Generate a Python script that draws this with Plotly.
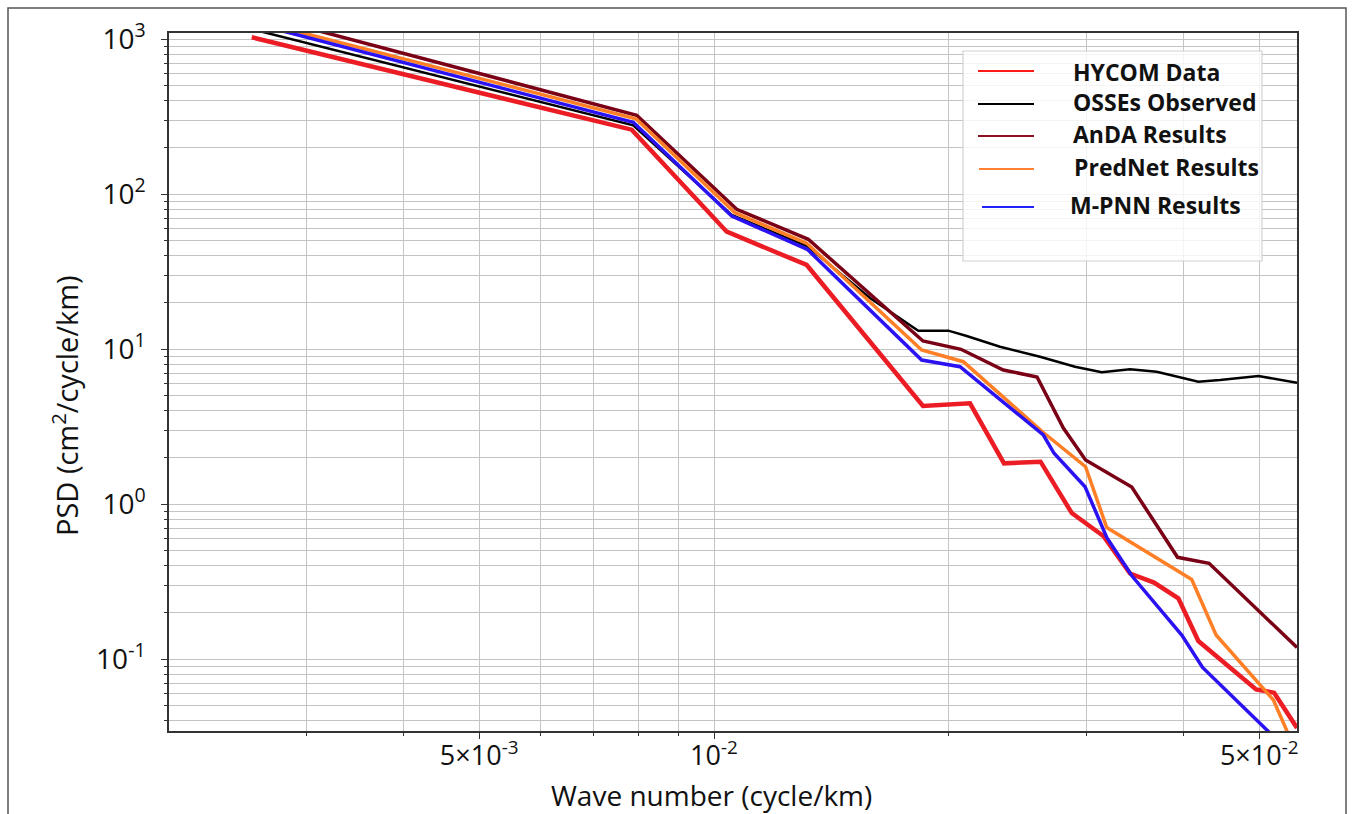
import plotly.graph_objects as go

# ---------------- data ----------------
hycom_x = [0.002555, 0.007843, 0.010382, 0.013147, 0.01853, 0.021292, 0.023539, 0.02622,
           0.028749, 0.031559, 0.034146, 0.036652, 0.039381, 0.041777, 0.049541, 0.052244, 0.055903]
hycom_y = [1026, 260, 57.13, 34.84, 4.288, 4.463, 1.830, 1.875,
           0.8747, 0.6216, 0.3561, 0.3115, 0.2463, 0.1306, 0.06357, 0.06061, 0.03588]

osse_x = [0.002555, 0.00788, 0.010536, 0.013159, 0.015849, 0.018273, 0.01997, 0.021085, 0.023263,
          0.026181, 0.029031, 0.031411, 0.034146, 0.036945, 0.041777, 0.044541, 0.049878, 0.055903]
osse_y = [1157, 277.5, 73.2, 46.18, 21.33, 13.13, 13.13, 12.13, 10.35,
          8.918, 7.688, 7.073, 7.397, 7.137, 6.153, 6.310, 6.695, 6.062]

anda_x = [0.002555, 0.00796, 0.010693, 0.013209, 0.01853, 0.020733, 0.023491, 0.02595,
          0.028046, 0.029945, 0.034318, 0.039288, 0.043118, 0.055903]
anda_y = [1469, 322, 79.65, 51.03, 11.26, 9.955, 7.320, 6.596,
          3.093, 1.922, 1.287, 0.4530, 0.4144, 0.1186]

prednet_x = [0.002555, 0.007943, 0.010639, 0.013147, 0.018459, 0.020874, 0.026437, 0.029945,
             0.031878, 0.04097, 0.044018, 0.052136, 0.055903]
prednet_y = [1330, 306, 75.75, 48.08, 9.853, 8.281, 2.893, 1.741,
             0.7054, 0.3257, 0.1428, 0.05438, 0.02437]

mpnn_x = [0.002555, 0.00788, 0.010536, 0.01317, 0.018459, 0.020672, 0.026437, 0.027286,
          0.0299, 0.031878, 0.034349, 0.039778, 0.042298, 0.05062, 0.052398]
mpnn_y = [1269, 290, 72.13, 43.98, 8.493, 7.688, 2.787, 2.124,
          1.293, 0.6079, 0.3431, 0.1428, 0.08813, 0.03658, 0.03093]

series_names = ["HYCOM Data", "OSSEs Observed", "AnDA Results", "PredNet Results", "M-PNN Results"]

x_tick_vals = [0.005, 0.01, 0.05]
x_tick_text = ["5\u00d710<sup>-3</sup>", "10<sup>-2</sup>", "5\u00d710<sup>-2</sup>"]
x_minor_vals = [0.002, 0.003, 0.004, 0.006, 0.007, 0.008, 0.009, 0.02, 0.03, 0.04]

y_tick_vals = [0.1, 1, 10, 100, 1000]
y_tick_text = ["10<sup>-1</sup>", "10<sup>0</sup>", "10<sup>1</sup>", "10<sup>2</sup>", "10<sup>3</sup>"]
y_minor_vals = [m * d for d in [0.01, 0.1, 1, 10, 100] for m in range(2, 10)]

# ---------------- styles ----------------
line_colors = ["#ec1c24", "#000000", "#7a0016", "#ff7f27", "#2b12f2"]
line_widths = [4.5, 2.5, 3.5, 3.5, 3.5]
legend_colors = ["#ff1a1a", "#000000", "#8b1020", "#ff8030", "#2222ff"]

xs = [hycom_x, osse_x, anda_x, prednet_x, mpnn_x]
ys = [hycom_y, osse_y, anda_y, prednet_y, mpnn_y]

fig = go.Figure()
for name, xv, yv, c, w in zip(series_names, xs, ys, line_colors, line_widths):
    fig.add_trace(go.Scatter(x=xv, y=yv, mode="lines", name=name,
                             line=dict(color=c, width=w), showlegend=False))

# pixel -> paper helpers (layout positioning only)
L, R, T, B = 169, 1297, 33, 731
def px(xp):
    return (xp - L) / (R - L)
def py(yp):
    return (B - yp) / (B - T)

grid_c = "#c4c4c4"
axis_c = "#333333"
FONT = "Open Sans"

fig.update_layout(
    width=1358, height=814,
    margin=dict(l=L, r=1358 - R, t=T, b=814 - B),
    paper_bgcolor="white", plot_bgcolor="white",
    showlegend=False,
    font=dict(family=FONT, color="#111111"),
)

fig.update_xaxes(
    type="log", range=[-2.6987, -1.2526],
    tickmode="array", tickvals=x_tick_vals, ticktext=x_tick_text,
    ticks="outside", ticklen=6, tickwidth=1.2, tickcolor=axis_c,
    tickfont=dict(size=27, family=FONT, color="#111111"),
    ticklabelstandoff=-6,
    showline=True, linecolor=axis_c, linewidth=1.5, mirror=True,
    showgrid=True, gridcolor=grid_c, gridwidth=1.3, zeroline=False,
    minor=dict(tickmode="array", tickvals=x_minor_vals, ticks="outside", ticklen=3,
               tickcolor=axis_c, showgrid=True, gridcolor=grid_c, gridwidth=1.3),
)
fig.update_yaxes(
    type="log", range=[-1.4645, 3.0387],
    tickmode="array", tickvals=y_tick_vals, ticktext=y_tick_text,
    ticks="outside", ticklen=6, tickwidth=1.2, tickcolor=axis_c,
    tickfont=dict(size=28, family=FONT, color="#111111"),
    ticklabelstandoff=10,
    showline=True, linecolor=axis_c, linewidth=1.5, mirror=True,
    showgrid=True, gridcolor=grid_c, gridwidth=1.3, zeroline=False,
    minor=dict(tickmode="array", tickvals=y_minor_vals, ticks="outside", ticklen=3,
               tickcolor=axis_c, showgrid=True, gridcolor=grid_c, gridwidth=1.3),
)

shapes = []
annotations = []

# outer figure frame
shapes.append(dict(type="rect", xref="paper", yref="paper",
                   x0=px(8), x1=px(1346), y0=py(822), y1=py(8),
                   line=dict(color="#555555", width=1.5), fillcolor="rgba(0,0,0,0)", layer="below"))

# legend box
shapes.append(dict(type="rect", xref="paper", yref="paper",
                   x0=px(963), x1=px(1262), y0=py(261), y1=py(51),
                   line=dict(color="#d2d2d2", width=1.2), fillcolor="rgba(255,255,255,0.82)", layer="above"))

legend_line_y = [71, 104, 136, 169, 207]
legend_text_y = [72, 102.5, 134, 167, 204.5]
legend_text_x = [1071, 1071, 1071, 1072, 1068]
legend_line_x0 = [978, 978, 978, 979, 982]
for name, c, ly, ty, tx, lx in zip(series_names, legend_colors, legend_line_y,
                                   legend_text_y, legend_text_x, legend_line_x0):
    shapes.append(dict(type="line", xref="paper", yref="paper",
                       x0=px(lx), x1=px(1034), y0=py(ly), y1=py(ly),
                       line=dict(color=c, width=2)))
    annotations.append(dict(text="<b>" + name + "</b>", xref="paper", yref="paper",
                            x=px(tx), y=py(ty), xanchor="left", yanchor="middle",
                            showarrow=False, font=dict(size=23, family=FONT, color="#111111")))

# axis titles
annotations.append(dict(text="Wave number (cycle/km)", xref="paper", yref="paper",
                        x=px(711), y=py(795), xanchor="center", yanchor="middle",
                        showarrow=False, font=dict(size=28, family=FONT, color="#111111")))
annotations.append(dict(text="PSD (cm<sup>2</sup>/cycle/km)", xref="paper", yref="paper",
                        x=px(65), y=py(406), xanchor="center", yanchor="middle", textangle=-90,
                        showarrow=False, font=dict(size=29, family=FONT, color="#111111")))

fig.update_layout(shapes=shapes, annotations=annotations)

fig.write_html("out.html")
